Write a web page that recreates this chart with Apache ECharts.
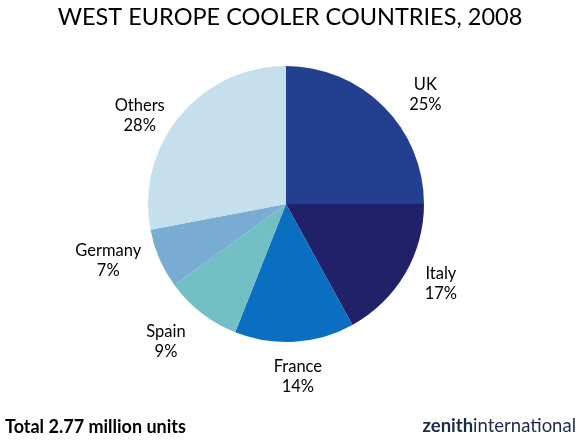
<!DOCTYPE html>
<html>
<head>
<meta charset="utf-8">
<script src="https://cdn.jsdelivr.net/npm/echarts@6/dist/echarts.min.js"></script>
<style>
  html, body { margin: 0; padding: 0; background: #fff; }
  #chart { width: 580px; height: 441px; }
</style>
</head>
<body>
<div id="chart"></div>
<script>
// share of coolers by country, clockwise from 12 o'clock
const countries = ['UK', 'Italy', 'France', 'Spain', 'Germany', 'Others'];
const shares = [25, 17, 14, 9, 7, 28];
const sliceColors = ['#233f90', '#21216a', '#0a6fc0', '#72bfc4', '#78acd2', '#c5dfec'];

const titleText = 'WEST EUROPE COOLER COUNTRIES, 2008';
const footText = 'Total 2.77 million units';

const FONT = 'Lato, "Open Sans", sans-serif';

// hand placed labels in the original: small nudges off the slice bisector
const labelNudge = [[17, 13], [6, -8], [1, 0], [-14, 1], [-19, -12], [-13, 22]];

const chart = echarts.init(document.getElementById('chart'));

const pieData = countries.map((name, i) => ({
  name: name,
  value: shares[i],
  itemStyle: { color: sliceColors[i] }
}));

chart.setOption({
  animation: false,
  title: [
    {
      text: titleText,
      left: 'center',
      top: 5,
      padding: 0,
      textStyle: { fontFamily: FONT, fontSize: 23.5, fontWeight: 'normal', color: '#000' }
    },
    {
      text: footText,
      left: 5,
      top: 418,
      padding: 0,
      textStyle: { fontFamily: FONT, fontSize: 18, fontWeight: 'bold', color: '#000' }
    },
    {
      text: '{b|zenith}{r|international}',
      right: 4,
      top: 417,
      padding: 0,
      textStyle: {
        rich: {
          b: { fontFamily: FONT, fontSize: 18.5, fontWeight: 'bold', color: '#1c2b4c' },
          r: { fontFamily: FONT, fontSize: 18.5, fontWeight: 'normal', color: '#1c2b4c' }
        }
      }
    }
  ],
  series: [
    {
      type: 'pie',
      center: [286, 204],
      radius: [0, 138],
      startAngle: 90,
      clockwise: true,
      silent: true,
      label: { show: false },
      labelLine: { show: false },
      itemStyle: { borderWidth: 0 },
      data: pieData
    },
    {
      // invisible ring used only to place the labels around the pie
      type: 'pie',
      center: [286, 204],
      radius: [0, 340],
      startAngle: 90,
      clockwise: true,
      silent: true,
      itemStyle: { color: 'rgba(0,0,0,0)', borderWidth: 0 },
      label: {
        show: true,
        position: 'inside',
        fontFamily: FONT,
        fontSize: 16.5,
        lineHeight: 20,
        color: '#000',
        formatter: p => p.name + '\n' + p.value + '%'
      },
      labelLayout: p => ({ dx: labelNudge[p.dataIndex][0], dy: labelNudge[p.dataIndex][1] }),
      labelLine: { show: false },
      data: countries.map((name, i) => ({ name: name, value: shares[i] }))
    }
  ]
});
</script>
</body>
</html>
